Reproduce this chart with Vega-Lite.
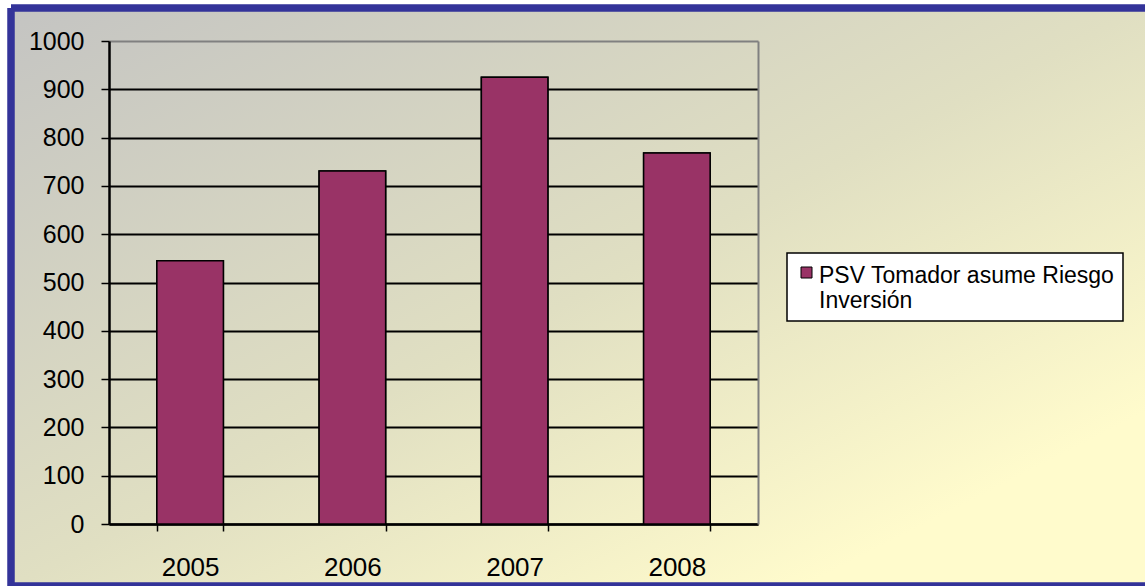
{
  "$schema": "https://vega.github.io/schema/vega-lite/v6.json",
  "autosize": "none",
  "width": 1134,
  "height": 578,
  "padding": {"left": 11, "top": 8, "right": 0, "bottom": 0},
  "background": "#ffffff",
  "view": {
    "fill": {"expr": "{gradient: 'linear', x1: 0, y1: 0, x2: 1, y2: 1, stops: [{offset: 0, color: '#c4c4c2'}, {offset: 0.5, color: '#e0dfc2'}, {offset: 0.85, color: '#fffbcc'}, {offset: 1, color: '#fffbcc'}]}"},
    "stroke": "#333399",
    "strokeWidth": 7.5,
    "strokeDash": [1134, 578, 1712, 0]
  },
  "data": {
    "values": [
      {"year": "2005", "value": 545, "serie": "PSV Tomador asume Riesgo Inversión"},
      {"year": "2006", "value": 731, "serie": "PSV Tomador asume Riesgo Inversión"},
      {"year": "2007", "value": 925, "serie": "PSV Tomador asume Riesgo Inversión"},
      {"year": "2008", "value": 768, "serie": "PSV Tomador asume Riesgo Inversión"}
    ]
  },
  "encoding": {
    "x": {
      "field": "year",
      "type": "nominal",
      "scale": {"type": "band", "range": [98, 747], "paddingInner": 0.59, "paddingOuter": 0.295},
      "axis": {
        "title": null,
        "orient": "bottom",
        "offset": -62,
        "labelAngle": 0,
        "labelFont": "Liberation Sans",
        "labelFontSize": 26,
        "labelColor": "#000000",
        "labelPadding": 23,
        "domainColor": "#000000",
        "domainWidth": 2.5,
        "tickColor": "#000000",
        "tickWidth": 1.5,
        "tickSize": 7,
        "tickBand": "extent",
        "grid": false
      }
    },
    "y": {
      "field": "value",
      "type": "quantitative",
      "scale": {"domain": [0, 1000], "range": [516, 33], "nice": false, "zero": true}
    }
  },
  "layer": [
    {
      "mark": {"type": "bar", "fill": "#993366", "stroke": "#000000", "strokeWidth": 1.5},
      "encoding": {
        "y": {
          "field": "value",
          "type": "quantitative",
          "axis": {
            "title": null,
            "orient": "left",
            "offset": -98,
            "values": [0, 100, 200, 300, 400, 500, 600, 700, 800, 900, 1000],
            "format": "d",
            "labelFont": "Liberation Sans",
            "labelFontSize": 25,
            "labelColor": "#000000",
            "labelPadding": 17,
            "domainColor": "#000000",
            "domainWidth": 2.5,
            "tickColor": "#000000",
            "tickWidth": 1.5,
            "tickSize": 8,
            "grid": true,
            "gridColor": {"condition": {"test": "datum.value == 1000", "value": "#808080"}, "value": "#000000"},
            "gridWidth": 2
          }
        },
        "fill": {
          "field": "serie",
          "type": "nominal",
          "scale": {"range": ["#993366"]},
          "legend": {
            "title": null,
            "orient": "none",
            "legendX": 776,
            "legendY": 245,
            "fillColor": "#ffffff",
            "strokeColor": "#000000",
            "padding": 8,
            "symbolType": "square",
            "symbolSize": 121,
            "symbolStrokeColor": "#000000",
            "symbolStrokeWidth": 1,
            "symbolFillColor": "#993366",
            "labelFont": "Liberation Sans",
            "labelFontSize": 23,
            "labelColor": "#000000",
            "labelOffset": 1,
            "labelLimit": 400,
            "labelBaseline": "top",
            "labelExpr": "[substring(datum.label, 0, lastindexof(datum.label, ' ')), substring(datum.label, lastindexof(datum.label, ' ') + 1)]",
            "encode": {"labels": {"update": {"dy": {"value": -8}}}}
          }
        }
      }
    },
    {
      "mark": {"type": "bar", "fill": "#993366", "stroke": "#000000", "strokeWidth": 1.5},
      "encoding": {
        "y": {
          "field": "value",
          "type": "quantitative",
          "axis": {
            "title": null,
            "orient": "right",
            "offset": -387,
            "labels": false,
            "ticks": false,
            "grid": false,
            "domainColor": "#808080",
            "domainWidth": 2
          }
        }
      }
    }
  ],
  "resolve": {"axis": {"y": "independent"}},
  "config": {"legend": {"strokeWidth": 1.5}}
}
